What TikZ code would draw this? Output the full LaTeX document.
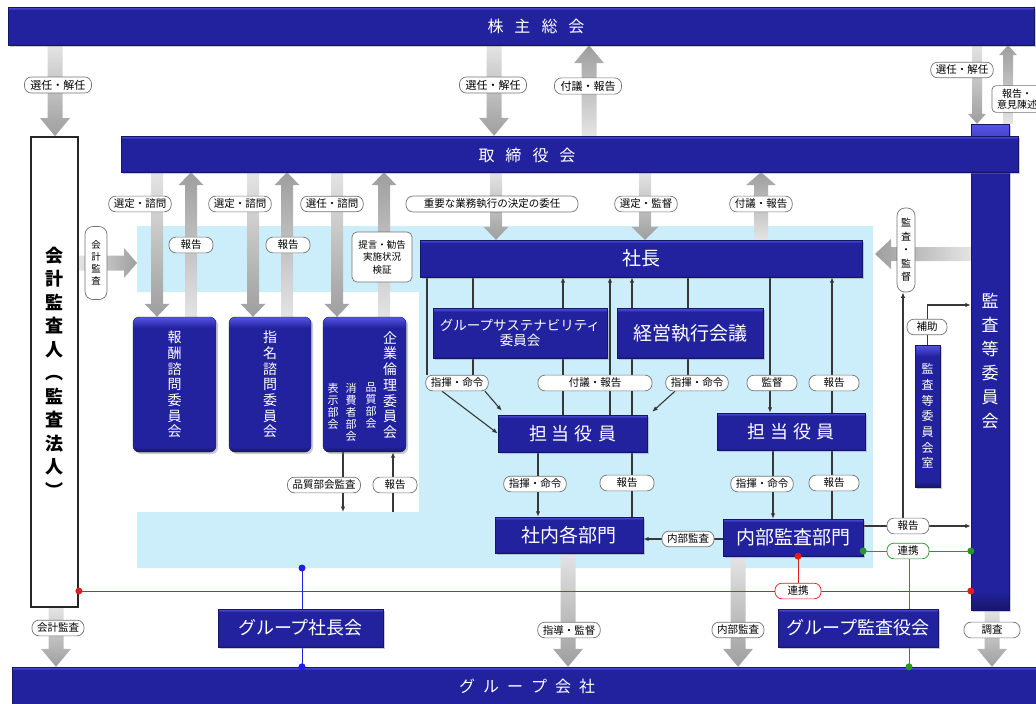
\documentclass[tikz,border=0pt]{standalone}
\usepackage{fontspec}
\newfontfamily\jp{Noto Sans CJK JP}
\usetikzlibrary{calc,arrows.meta,shadows}
\pgfdeclarelayer{bgA}\pgfdeclarelayer{bgB}
\pgfsetlayers{bgA,bgB,main}
\definecolor{bxa}{RGB}{85,85,228}
\definecolor{bxb}{RGB}{34,34,158}
\definecolor{bxc}{RGB}{22,22,105}
\definecolor{lblue}{RGB}{204,238,250}
\definecolor{ga}{RGB}{228,228,228}
\definecolor{gb}{RGB}{158,158,158}
\definecolor{lnc}{RGB}{55,55,55}
\definecolor{grc}{RGB}{40,150,40}
\definecolor{rdc}{RGB}{222,30,30}
\definecolor{blc}{RGB}{30,30,230}
\definecolor{lbd}{RGB}{115,115,115}
\pgfdeclareverticalshading{boxsh}{100bp}{color(0bp)=(bxc); color(25bp)=(bxc); color(27bp)=(bxb); color(71bp)=(bxb); color(75bp)=(bxa); color(100bp)=(bxa)}
\newcommand\fs[2]{\fontsize{#1}{#2}\selectfont}
\newcommand\BAw{6pt}\newcommand\BAh{12.5pt}\newcommand\BAl{13pt}
\newcommand\blk[3][]{%
 \coordinate (BAt) at (#2); \coordinate (BAp) at (#3);
 \coordinate (BAb) at ($(BAp)!\BAl!(BAt)$);
 \shade[#1] ($(BAt)!\BAw!90:(BAp)$) -- ($(BAb)!\BAw!90:(BAp)$) -- ($(BAb)!\BAh!90:(BAp)$) -- (BAp)
   -- ($(BAb)!\BAh!-90:(BAp)$) -- ($(BAb)!\BAw!-90:(BAp)$) -- ($(BAt)!\BAw!-90:(BAp)$) -- cycle;}
\newcommand\bx[7][]{\node[#1,minimum width={(#5-#3)*1pt},minimum height={(#6-#4)*1pt}] (#2) at ({(#3+#5)/2},{(#4+#6)/2}) {#7};}
\newcommand\cx[1]{\coordinate (x#1) at (#1,0);}
\newcommand\cy[1]{\coordinate (y#1) at (0,#1);}
\tikzset{
 bluebox/.style={inner sep=0pt, shading=boxsh, draw=bxc, line width=0.4pt,
   drop shadow={shadow xshift=2pt,shadow yshift=-2pt,fill=black!50,opacity=0.4}, text=white, font=\jp\fs{18}{20}},
 whitebox/.style={inner sep=0pt, fill=white, draw=black!85, line width=1.8pt},
 rbox/.style={rounded corners=6pt},
 vtxt/.style={inner sep=0pt, align=center, text=white},
 bartxt/.style={inner sep=0pt, text=white, font=\jp\fs{16}{18}},
 lab/.style={draw=lbd, fill=white, rounded corners=7pt, line width=0.7pt, inner xsep=5pt, inner ysep=3pt, minimum width=44pt, font=\jp\fs{10.5}{12}, text=black},
 labbig/.style={lab, font=\jp\fs{11}{13}, inner xsep=6pt},
 vlab/.style={lab, align=center, inner xsep=2pt, minimum width=0pt, rounded corners=8pt, font=\jp\fs{9.5}{12}},
 lnk/.style={draw=lnc, line width=1.1pt},
 ark/.style={lnk, -{Latex[length=5.5pt,width=4.5pt]}},
 grl/.style={draw=grc, line width=1pt},
 rdl/.style={draw=rdc, line width=1pt},
 bll/.style={draw=blc, line width=1pt},
 bkdn/.style={top color=ga, bottom color=gb},
 bkup/.style={top color=gb, bottom color=ga},
 bkrt/.style={left color=ga, right color=gb},
 bklt/.style={left color=gb, right color=ga},
}
\begin{document}
\begin{tikzpicture}[x=1pt,y=-1pt]
\useasboundingbox (0,0) rectangle (1036,704);
\begin{pgfonlayer}{bgA}
\fill[lblue] (137,226) -- (873,226) -- (873,568) -- (137,568) -- (137,512) -- (419,512) -- (419,292) -- (137,292) -- cycle;
\end{pgfonlayer}
% columns and rows
\cx{55}\cx{494}\cx{589}\cx{977}\cx{1008}\cx{157}\cx{191}\cx{253}\cx{287}\cx{337}\cx{384}\cx{496}\cx{645}\cx{761}
\cx{56}\cx{568}\cx{738}\cx{992}\cx{137}\cx{875}
\cx{427}\cx{473}\cx{563}\cx{610}\cx{632}\cx{688}\cx{770}\cx{832}\cx{538}\cx{773}\cx{343}\cx{393}\cx{903}\cx{909}\cx{798}\cx{302}
\cy{305}\cy{551}\cy{591}\cy{568}\cy{512}\cy{263}\cy{254}
% boxes
\bx[bluebox]{kabu}{8}{7}{1034}{45}{}
\node[bartxt] (kabuT) at (536,26) {株\hspace{11pt}主\hspace{11pt}総\hspace{11pt}会};
\bx[bluebox]{kansa}{971}{124}{1009}{610}{}
\node[vtxt, font=\jp\fs{17}{24}] (kansaT) at (990,361) {監\\査\\等\\委\\員\\会};
\bx[bluebox]{tori}{121}{136}{1018}{172}{}
\node[bartxt] (toriT) at (527,155) {取\hspace{11pt}締\hspace{11pt}役\hspace{11pt}会};
\bx[whitebox]{kaikei}{31}{137}{78}{607}{}
\node[inner sep=0pt, align=center, font=\jp\bfseries\fs{18}{23.5}] (kaikeiT) at (54.5,372) {会\\計\\監\\査\\人\\︵\\監\\査\\法\\人\\︶};
\bx[bluebox,rbox,vtxt,font=\jp\fs{14}{15.7}]{houshu}{133}{317}{216}{452}{報\\酬\\諮\\問\\委\\員\\会}
\bx[bluebox,rbox,vtxt,font=\jp\fs{14}{15.7}]{shimei}{229}{317}{311}{452}{指\\名\\諮\\問\\委\\員\\会}
\bx[bluebox,rbox]{rinri}{323}{317}{406}{452}{}
\node[vtxt, font=\jp\fs{14}{15.7}] (rinriT) at (390,385) {企\\業\\倫\\理\\委\\員\\会};
\node[vtxt, font=\jp\fs{11}{12}, anchor=north] (rinriA) at (371,383) {品\\質\\部\\会};
\node[vtxt, font=\jp\fs{11}{12}, anchor=north] (rinriB) at (351,383) {消\\費\\者\\部\\会};
\node[vtxt, font=\jp\fs{11}{12}, anchor=north] (rinriC) at (333,383) {表\\示\\部\\会};
\bx[bluebox,font=\jp\fs{19}{21}]{shacho}{420}{240}{862}{277}{社長}
\bx[bluebox,align=center,font=\jp\fs{13.5}{14.5}]{sus}{433}{308}{607}{358}{グループサステナビリティ\\委員会}
\bx[bluebox,font=\jp\fs{19}{21}]{keiei}{617}{308}{763}{358}{経営執行会議}
\bx[bluebox]{tantoL}{498}{415}{647}{452}{担\hspace{5pt}当\hspace{5pt}役\hspace{5pt}員}
\bx[bluebox]{tantoR}{717}{413}{865}{450}{担\hspace{5pt}当\hspace{5pt}役\hspace{5pt}員}
\bx[bluebox,font=\jp\fs{19}{21}]{shanai}{495}{517}{643}{553}{社内各部門}
\bx[bluebox,font=\jp\fs{19}{21}]{naibu}{723}{519}{863}{556}{内部監査部門}
\bx[bluebox]{gshacho}{218}{609}{383}{647}{グループ社長会}
\bx[bluebox]{gkansa}{778}{609}{938}{647}{グループ監査役会}
\bx[bluebox,vtxt,font=\jp\fs{12}{15.7}]{shitsu}{915}{345}{940}{487}{監\\査\\等\\委\\員\\会\\室}
\bx[bluebox]{gcomp}{12}{667}{1040}{706}{}
\node[bartxt] (gcompT) at (527,686) {グ\hspace{8pt}ル\hspace{8pt}ー\hspace{8pt}プ\hspace{8pt}会\hspace{8pt}社};
% labels
\node[labbig] (lt1) at (58,85) {選任・解任};
\node[labbig] (lt2) at (493,85) {選任・解任};
\node[labbig] (lt3) at (588,86) {付議・報告};
\node[lab] (lt4) at (962,70) {選任・解任};
\node[lab,align=center,rounded corners=4pt,font=\jp\fs{10}{11.5}] (lt5) at (1017,99) {報告・\\意見陳述};
\node[lab] (lm1) at (140,204) {選定・諮問};
\node[lab] (lm2) at (240,204) {選定・諮問};
\node[lab] (lm3) at (332,204) {選任・諮問};
\node[lab,minimum width=172pt] (lm4) at (492,204) {重要な業務執行の決定の委任};
\node[lab] (lm5) at (646,204) {選定・監督};
\node[lab] (lm6) at (761,204) {付議・報告};
\node[lab] (lm7) at (191,245) {報告};
\node[lab] (lm8) at (288,245) {報告};
\node[lab,align=center,rounded corners=5pt,minimum width=60pt,minimum height=50pt,inner xsep=2pt,font=\jp\fs{9.5}{12.5}] (lm9) at (382,257) {提言・勧告\\実施状況\\検証};
\node[vlab,minimum width=22pt,minimum height=73pt] (lm10) at (96,263) {会\\計\\監\\査};
\node[vlab,minimum width=18pt,minimum height=84pt,font=\jp\fs{10}{13.5}] (lm11) at (906,250) {監\\査\\・\\監\\督};
\node[lab] (l1) at (457,383) {指揮・命令};
\node[lab,minimum width=114pt] (l2) at (595,383) {付議・報告};
\node[lab] (l3) at (697,383) {指揮・命令};
\node[lab,minimum width=50pt] (l4) at (772,383) {監督};
\node[lab,minimum width=50pt] (l5) at (834,383) {報告};
\node[lab] (l6) at (535,484) {指揮・命令};
\node[lab,minimum width=54pt] (l7) at (627,483) {報告};
\node[lab] (l8) at (762,484) {指揮・命令};
\node[lab,minimum width=50pt] (l9) at (834,483) {報告};
\node[lab] (l10) at (688,539) {内部監査};
\node[lab,minimum width=42pt] (l11) at (908,526) {報告};
\node[lab,minimum width=40pt] (l12) at (927,327) {補助};
\node[lab,draw=grc,minimum width=42pt] (l13) at (908,551) {連携};
\node[lab,draw=rdc,minimum width=46pt] (l14) at (798,591) {連携};
\node[lab] (l15) at (324,485) {品質部会監査};
\node[lab] (l16) at (395,485) {報告};
\node[lab] (lb1) at (58,628) {会計監査};
\node[lab] (lb2) at (569,630) {指導・監督};
\node[lab] (lb3) at (738,630) {内部監査};
\node[lab,minimum width=56pt] (lb4) at (992,630) {調査};
% connectors
\begin{pgfonlayer}{bgB}
\renewcommand\BAw{7.5pt}\renewcommand\BAh{15pt}\renewcommand\BAl{18pt}
\blk[bkdn]{kabu.south -| x55}{kaikei.north -| x55}
\blk[bkdn]{kabu.south -| x494}{tori.north -| x494}
\blk[bkup]{tori.north -| x589}{kabu.south -| x589}
\blk[bkdn]{kaikei.south -| x56}{gcomp.north -| x56}
\blk[bkdn]{shanai.south -| x568}{gcomp.north -| x568}
\blk[bkdn]{naibu.south -| x738}{gcomp.north -| x738}
\blk[bkdn]{kansa.south -| x992}{gcomp.north -| x992}
\renewcommand\BAl{13pt}
\blk[bkrt]{kaikei.east |- y263}{x137 |- y263}
\renewcommand\BAw{7pt}\renewcommand\BAl{16pt}
\blk[bklt]{kansa.west |- y254}{x875 |- y254}
\renewcommand\BAw{5pt}\renewcommand\BAh{9pt}\renewcommand\BAl{10pt}
\blk[bkdn]{kabu.south -| x977}{kansa.north -| x977}
\blk[bkup]{kansa.north -| x1008}{kabu.south -| x1008}
\renewcommand\BAw{6pt}\renewcommand\BAh{12.5pt}\renewcommand\BAl{13pt}
\blk[bkdn]{tori.south -| x157}{houshu.north -| x157}
\blk[bkup]{houshu.north -| x191}{tori.south -| x191}
\blk[bkdn]{tori.south -| x253}{shimei.north -| x253}
\blk[bkup]{shimei.north -| x287}{tori.south -| x287}
\blk[bkdn]{tori.south -| x337}{rinri.north -| x337}
\blk[bkup]{rinri.north -| x384}{tori.south -| x384}
\blk[bkdn]{tori.south -| x496}{shacho.north -| x496}
\renewcommand\BAh{13.5pt}
\blk[bkdn]{tori.south -| x645}{shacho.north -| x645}
\renewcommand\BAw{7pt}\renewcommand\BAh{15pt}
\blk[bkup]{shacho.north -| x761}{tori.south -| x761}
% thin lines
\draw[lnk] (shacho.south -| x427) -- (l1.north -| x427);
\draw[ark] ($(l1.south)+(-15,0)$) -- (tantoL.west);
\draw[lnk] (shacho.south -| x473) -- (sus.north -| x473);
\draw[lnk] (sus.south -| x473) -- (l1.north -| x473);
\draw[ark] ($(l1.south)+(28,0)$) -- ($(tantoL.north west)+(4,-4)$);
\draw[ark] (sus.north -| x563) -- (shacho.south -| x563);
\draw[lnk] (tantoL.north -| x563) -- (sus.south -| x563);
\draw[ark] (tantoL.north -| x610) -- (shacho.south -| x610);
\draw[ark] (keiei.north -| x632) -- (shacho.south -| x632);
\draw[lnk] (tantoL.north -| x632) -- (keiei.south -| x632);
\draw[lnk] (shacho.south -| x688) -- (keiei.north -| x688);
\draw[lnk] (keiei.south -| x688) -- (l3.north -| x688);
\draw[ark] ($(l3.south)+(-22,0)$) -- ($(tantoL.north east)+(5,-3)$);
\draw[ark] (shacho.south -| x770) -- (tantoR.north -| x770);
\draw[ark] (tantoR.north -| x832) -- (shacho.south -| x832);
\draw[ark] (tantoL.south -| x538) -- (shanai.north -| x538);
\draw[lnk] (shanai.north -| x632) -- (tantoL.south -| x632);
\draw[ark] (tantoR.south -| x773) -- (naibu.north -| x773);
\draw[lnk] (naibu.north -| x832) -- (tantoR.south -| x832);
\draw[ark] (naibu.west |- l10) -- (shanai.east |- l10);
\draw[ark] (naibu.east |- l11) -- (kansa.west |- l11);
\draw[ark] (l11.north -| x903) -- (lm11.south -| x903);
\draw[ark] (shitsu.north) |- (kansa.west |- y305);
\draw[ark] (rinri.south -| x343) -- (x343 |- y512);
\draw[ark] (x393 |- y512) -- (rinri.south -| x393);
\draw[grl] (naibu.east |- y551) -- (kansa.west |- y551);
\draw[grl] (l13.south -| x909) -- (gcomp.north -| x909);
\draw[rdl] (kaikei.east |- y591) -- (kansa.west |- y591);
\draw[rdl] (naibu.south -| x798) -- (x798 |- y591);
\draw[bll] (x302 |- y568) -- (gcomp.north -| x302);
\end{pgfonlayer}
% dots
\fill[grc] (naibu.east |- y551) circle (3.5pt);
\fill[grc] (kansa.west |- y551) circle (3.5pt);
\fill[grc] (gcomp.north -| x909) circle (3.5pt);
\fill[rdc] (kaikei.east |- y591) circle (3.5pt);
\fill[rdc] (kansa.west |- y591) circle (3.5pt);
\fill[rdc] (naibu.south -| x798) circle (3.5pt);
\fill[blc] (x302 |- y568) circle (3.5pt);
\fill[blc] (gcomp.north -| x302) circle (3.5pt);
\end{tikzpicture}
\end{document}
